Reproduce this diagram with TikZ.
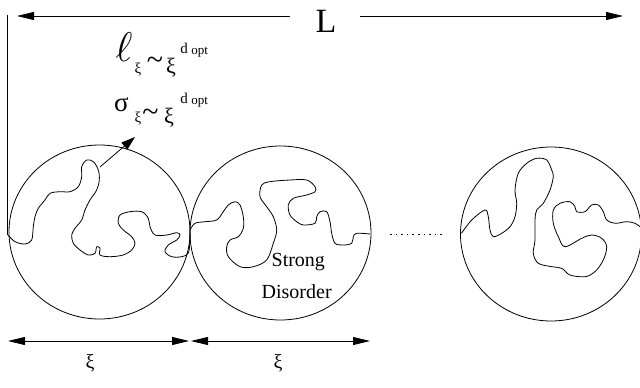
\documentclass[tikz,border=0pt]{standalone}
\usepackage{fontspec}
\setmainfont{Liberation Serif}
\newfontfamily\tms{Liberation Serif}
\usetikzlibrary{arrows.meta,shapes.geometric}
\begin{document}
\begin{tikzpicture}[x=1pt,y=-1pt, line width=0.8pt,
  tipr/.style={-{Triangle[length=17pt,width=8pt]}},
  dtip/.style={{Triangle[length=17pt,width=8pt]}-{Triangle[length=17pt,width=8pt]}},
  rtip/.style={-{Triangle[length=14pt,width=9pt]}},
  blob/.style={draw, ellipse, minimum width=181pt, minimum height=174pt, inner sep=0pt, line width=0.8pt},
  chain/.style={line width=0.8pt},
  lab/.style={font=\tms\fontsize{20}{24}\selectfont, inner sep=0pt},
  sym/.style={inner sep=0pt}]
\useasboundingbox (0,0) rectangle (640,388);

% blobs
\node[blob] (c1) at (99.5,232) {};
\node[blob] (c2) at (280.5,233) {};
\node[blob] (c3) at (551,234) {};

% top dimension
\node[sym, font=\tms\fontsize{34}{34}\selectfont, anchor=base] (L) at (326,32) {L};
\coordinate (tl1) at (290,16);
\coordinate (tl2) at (17,16);
\coordinate (tr1) at (360,16);
\coordinate (tr2) at (623,16);
\draw[tipr] (tl1) -- (tl2);
\draw[tipr] (tr1) -- (tr2);
\coordinate (vt) at (7,15);
\coordinate (vb) at (7,235);
\draw (vt) -- (vb);

% formulas
\node[sym, font=\fontsize{20}{20}\selectfont, scale=2] (l1) at (124,47) {$\ell$};
\node[sym, font=\tms\fontsize{15}{15}\selectfont] (l1s) at (138,70) {ξ};
\node[sym, font=\tms\fontsize{30}{30}\selectfont] (l1t) at (155,63) {\textasciitilde};
\node[sym, font=\tms\fontsize{22}{22}\selectfont] (l1x) at (171,67.5) {ξ};
\node[sym, font=\tms\fontsize{15}{15}\selectfont, anchor=base west] (l1d) at (180,53) {d};
\node[sym, font=\tms\fontsize{13}{13}\selectfont, anchor=base west] (l1o) at (191,54) {opt};

\node[sym, font=\tms\fontsize{27}{27}\selectfont] (s1) at (121.5,104.5) {σ};
\node[sym, font=\tms\fontsize{15}{15}\selectfont] (s1s) at (138,118.5) {ξ};
\node[sym, font=\tms\fontsize{30}{30}\selectfont] (s1t) at (150.5,115) {\textasciitilde};
\node[sym, font=\tms\fontsize{22}{22}\selectfont] (s1x) at (169,118) {ξ};
\node[sym, font=\tms\fontsize{15}{15}\selectfont, anchor=base west] (s1d) at (180,103) {d};
\node[sym, font=\tms\fontsize{13}{13}\selectfont, anchor=base west] (s1o) at (191,104) {opt};

% radius arrow
\coordinate (ra) at (100,167);
\coordinate (rb) at (135,137);
\draw[rtip] (ra) -- (rb);

% chains
\draw[chain] plot[smooth, tension=0.55] coordinates {
(8,235) (15,241.7) (25,244) (31.7,240) (33.3,226.7) (35,216.7) (38.3,208.3) (45,200) (50,193.3) (60,191.7) (70,191.7) (78.3,186.7) (81.7,176.7) (81.7,166.7) (86.7,160) (93.3,161.7) (98.3,170) (99.3,180) (96.7,190) (90,200) (85,210) (81.7,220) (75,228.3) (71.7,235) (73.3,243.3) (80,250) (88.3,255) (95,253.3) (96.7,246.7) (100,248.3) (100,255) (110,256.7) (123.3,255) (131.7,250) (135,243.3) (131.7,236.7) (123.3,230) (118.3,223.3) (120,215) (130,211.7) (141.7,211.7) (148.3,218.3) (150,226.7) (155,235) (166.7,235) (176.7,232.7) (180,235) (176.7,240) (168.3,245) (165,251.7) (171.7,256.7) (181.7,256.7) (188.3,253) (190,240) (190,230)};
\draw[chain] plot[smooth, tension=0.55] coordinates {
(190,230) (195,223.3) (205,221.7) (216.7,220) (223.3,211.7) (228.3,205) (235,201.7) (240,205) (243.3,216.7) (243.3,228.3) (238.3,236.7) (230,240) (226.7,246.7) (228.3,256.7) (240,266.7) (253.3,266.7) (266.7,260) (273.3,243.3) (276.7,230) (273.3,216.7) (266.7,206.7) (260,196.7) (261.7,185) (270,181.7) (290,180) (306.7,180) (315,186.7) (315,191.7) (306.7,195) (293.3,198.3) (288.3,205) (290,215) (296.7,221.7) (303.3,225) (315,223.3) (316.7,216.7) (320,211.7) (326.7,211.7) (330,221.7) (331.7,233.3) (335,243.3) (343.3,245) (351.7,243.3) (353.3,236.7) (356.7,233.3) (370,234)};
\draw[chain] plot[smooth, tension=0.55] coordinates {
(461.5,233.3) (471.7,220) (485,210) (488.3,216.7) (490,230) (493.3,236.7) (501.7,233.3) (510,226.7) (515,216.7) (516.7,203.3) (515,190) (518.3,173.3) (526.7,163.3) (536.7,158.3) (546.7,160) (551.7,170) (553.3,176.7) (550,190) (543.3,203.3) (536.7,210) (535,220) (535,240) (533.3,253.3) (538.3,263.3) (551.7,266.7) (561.7,268.3) (570,275) (585,276.7) (595,271.7) (603.3,260) (606.7,246.7) (601.7,238.3) (591.7,235) (581.7,238.3) (565,246.7) (558.3,236.7) (553.3,223.3) (553.3,210) (560,203.3) (570,201.7) (575,206.7) (576.7,211.7) (585,211.7) (591.7,205) (598.3,205) (603.3,211.7) (606.7,220) (615,223.3) (626.7,221.7) (635,223.3) (640,226.7)};

% dotted continuation
\coordinate (d1) at (390,234);
\coordinate (d2) at (443,234);
\draw[dash pattern=on 1.6pt off 4pt] (d1) -- (d2);

% strong disorder
\node[lab, anchor=base] (st) at (298.3,266.7) {Strong};
\node[lab, anchor=base] (di) at (296.7,298.3) {Disorder};

% bottom dimensions
\coordinate (b1) at (8,341);
\coordinate (b2) at (189,341);
\coordinate (b3) at (191,341);
\coordinate (b4) at (370,341);
\draw[dtip] (b1) -- (b2);
\draw[dtip] (b3) -- (b4);
\node[sym, font=\tms\fontsize{20}{20}\selectfont] (x1) at (90,363) {ξ};
\node[sym, font=\tms\fontsize{20}{20}\selectfont] (x2) at (278,363) {ξ};
\end{tikzpicture}
\end{document}
